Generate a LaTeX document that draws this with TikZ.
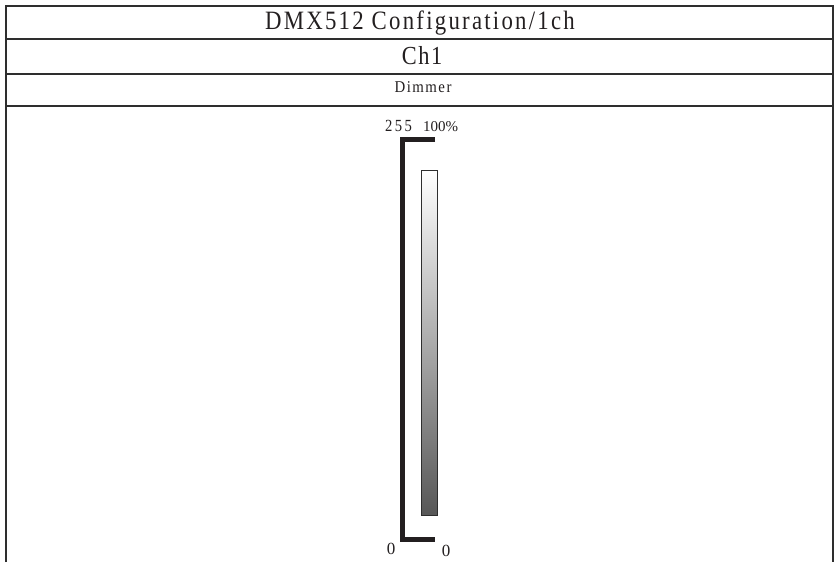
\documentclass[tikz,border=0pt]{standalone}
\usepackage{fontspec}
\setmainfont{Liberation Serif}
\newfontfamily\titleserif[FakeStretch=0.86, LetterSpace=8.5]{Liberation Serif}
\newfontfamily\chanserif[FakeStretch=0.86, LetterSpace=6]{Liberation Serif}
\newfontfamily\smallwide[FakeStretch=0.9, LetterSpace=9]{Liberation Serif}
\newfontfamily\digitwide[FakeStretch=0.86, LetterSpace=14]{Liberation Serif}
\usetikzlibrary{positioning}
\definecolor{cink}{HTML}{231F20}
\definecolor{cframe}{HTML}{2E2E2E}
\definecolor{cfader}{HTML}{575757}
\tikzset{
  every picture/.style={x=1pt, y=-1pt},
  rule/.style={draw=cframe, line width=2pt},
  label/.style={text=cink, inner sep=0pt, anchor=base},
  bracket/.style={draw=cink, line width=5pt, line join=miter},
  fader/.style={draw=cframe, line width=0.9pt, top color=white, bottom color=cfader,
    minimum width=16pt, minimum height=345pt, inner sep=0pt},
}
\begin{document}
\begin{tikzpicture}
  \useasboundingbox (0,0) rectangle (834,562);
  % frame and header rows
  \draw[rule] (6,562) -- (6,6) -- (833,6) -- (833,562);
  \draw[rule] (6,39) -- (833,39);
  \draw[rule] (6,73.5) -- (833,73.5);
  \draw[rule] (6,106) -- (833,106);
  \node[label, font=\titleserif\fontsize{26.5}{26.5}\selectfont] (title) at (420,29.5) {DMX512 Configuration/1ch};
  \node[label, font=\chanserif\fontsize{26}{26}\selectfont] (chan) at (422,64.5) {Ch1};
  \node[label, font=\smallwide\fontsize{16.5}{16.5}\selectfont] (func) at (423,92) {Dimmer};
  % value scale
  \draw[bracket] (435,139) -- (402.5,139) -- (402.5,539) -- (435,539);
  \node[fader] (bar) at (429,342.5) {};
  \node[label, font=\digitwide\fontsize{17}{17}\selectfont] (dmxmax) at (398.5,131.5) {255};
  \node[label, font=\fontsize{15}{15}\selectfont] (pctmax) at (440.5,131.5) {100\%};
  \node[label, font=\fontsize{17}{17}\selectfont] (dmxmin) at (391,554) {0};
  \node[label, font=\fontsize{17}{17}\selectfont] (pctmin) at (446,556) {0};
\end{tikzpicture}
\end{document}
